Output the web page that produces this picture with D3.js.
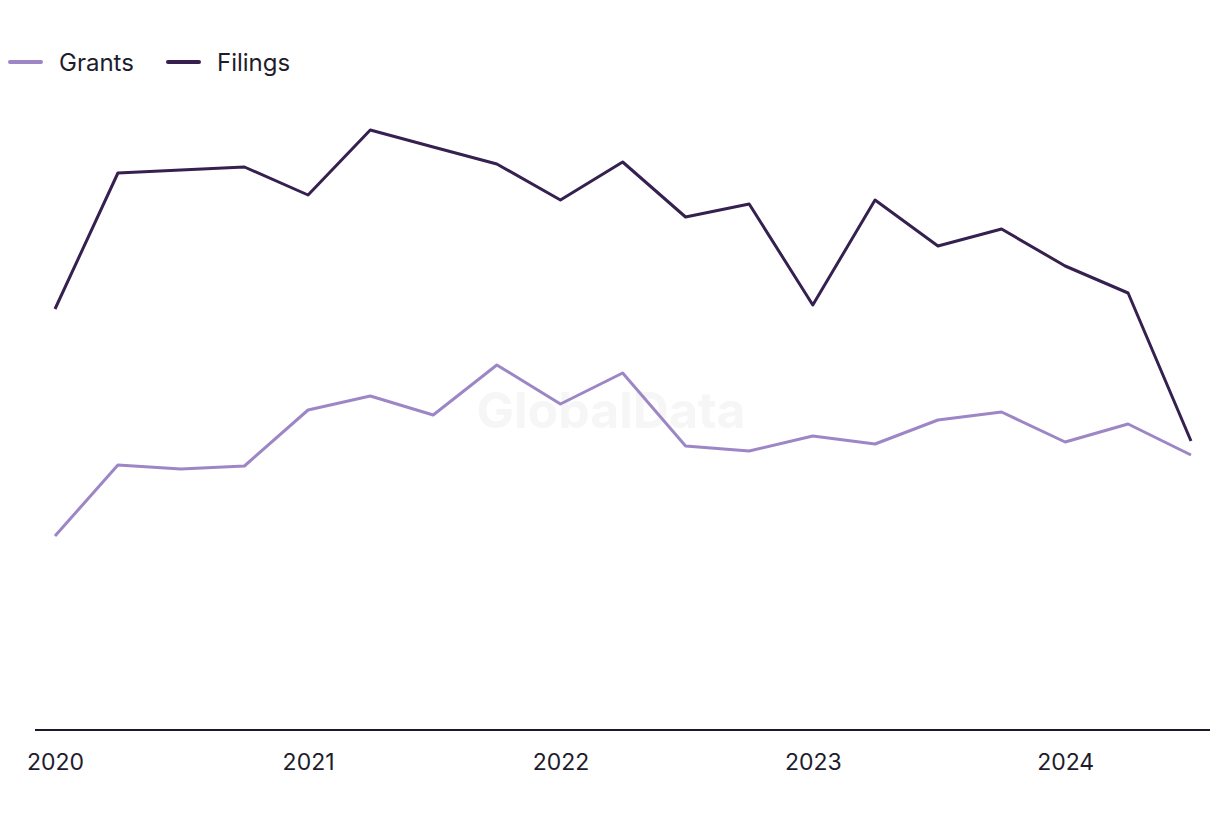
<!DOCTYPE html>
<html>
<head>
<meta charset="utf-8">
<script src="https://cdn.jsdelivr.net/npm/d3@7"></script>
<style>
  html, body { margin: 0; padding: 0; background: #ffffff; }
  svg { display: block; font-family: Inter, "Noto Sans", sans-serif; }
</style>
</head>
<body>
<svg id="chart" width="1220" height="820"></svg>
<script>
const quarters = ["2020Q1","2020Q2","2020Q3","2020Q4","2021Q1","2021Q2","2021Q3","2021Q4",
  "2022Q1","2022Q2","2022Q3","2022Q4","2023Q1","2023Q2","2023Q3","2023Q4",
  "2024Q1","2024Q2","2024Q3"];
const filings = [422, 558, 561, 564, 536, 601, 584, 567, 531, 569, 514, 527, 426, 531, 485, 502, 465, 438, 290];
const grants  = [195, 266, 262, 265, 321, 335, 316, 366, 327, 358, 285, 280, 295, 287, 311, 319, 289, 307, 276];
const tickLabels = ["2020","2021","2022","2023","2024"];
const seriesNames = ["Grants","Filings"];
const seriesColors = ["#9d86c6","#35204f"];

const svg = d3.select("#chart");
const parseQ = q => new Date(+q.slice(0,4), (+q.slice(5)-1)*3, 1);
const dates = quarters.map(parseQ);

const x = d3.scaleTime()
  .domain([new Date(2020,0,1), new Date(2024,6,1)])
  .range([55, 1191]);
const y = d3.scaleLinear().domain([0, 700]).range([731, 31]);

// watermark
svg.append("text")
  .attr("x", 611).attr("y", 428)
  .attr("text-anchor", "middle")
  .attr("font-size", 50).attr("font-weight", 700)
  .attr("fill", "#f6f6f6")
  .text("GlobalData");

// x axis
const xAxis = d3.axisBottom(x)
  .tickValues(tickLabels.map(t => new Date(+t, 0, 1)))
  .tickFormat(d3.timeFormat("%Y"))
  .tickSize(0).tickPadding(24);
const gx = svg.append("g").attr("transform", "translate(0,730)").call(xAxis);
gx.select(".domain").remove();
gx.selectAll("text").attr("font-size", 23).attr("fill", "#1e1c2c")
  .attr("font-family", "Inter, 'Noto Sans', sans-serif");
svg.append("line").attr("x1", 35).attr("x2", 1210).attr("y1", 730).attr("y2", 730)
  .attr("stroke", "#1a1a2a").attr("stroke-width", 2);

const line = d3.line().x((d, i) => x(dates[i])).y(d => y(d));
[grants, filings].forEach((s, k) => {
  svg.append("path").datum(s)
    .attr("d", line)
    .attr("fill", "none")
    .attr("stroke", seriesColors[k])
    .attr("stroke-width", 3)
    .attr("stroke-linejoin", "round");
});

// legend
const legendX = [10, 168];
seriesNames.forEach((n, k) => {
  const g = svg.append("g").attr("transform", `translate(${legendX[k]},62)`);
  g.append("line").attr("x1", 0).attr("x2", 31).attr("y1", 0).attr("y2", 0)
    .attr("stroke", seriesColors[k]).attr("stroke-width", 4).attr("stroke-linecap", "round");
  g.append("text").attr("x", 49).attr("y", 8.5)
    .attr("font-size", 24).attr("fill", "#1e1c2c").text(n);
});
</script>
</body>
</html>
